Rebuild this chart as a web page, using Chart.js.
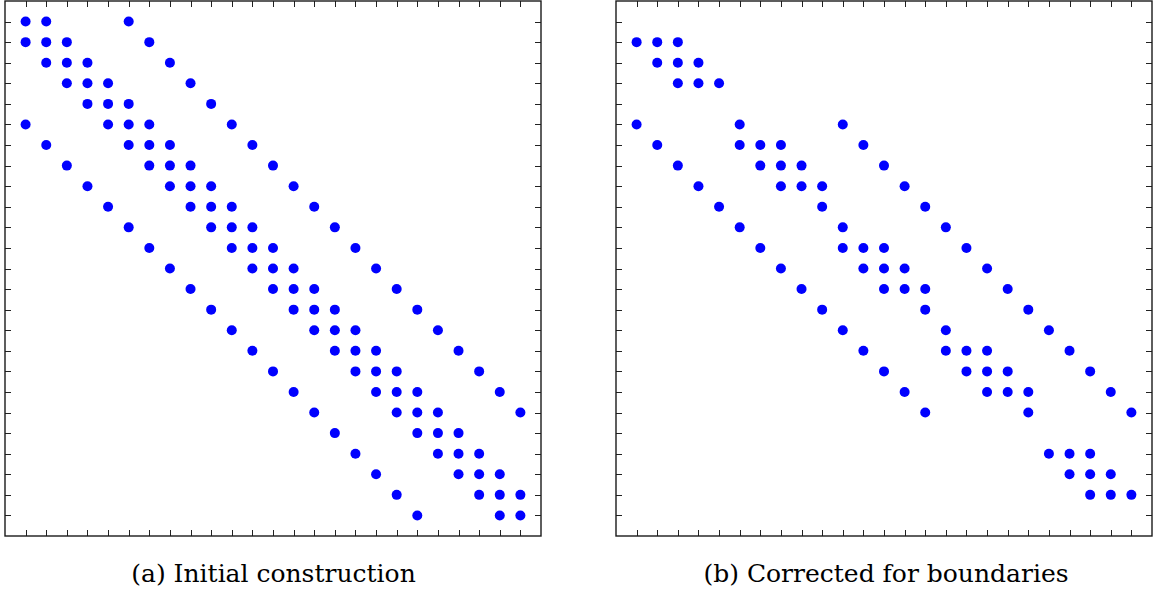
<!DOCTYPE html>
<html>
<head>
<meta charset="utf-8">
<script src="https://cdn.jsdelivr.net/npm/chart.js@4/dist/chart.umd.min.js"></script>
<style>
  html, body { margin: 0; padding: 0; background: #ffffff; }
  body { width: 1153px; height: 594px; position: relative; overflow: hidden; }
  .wrap { position: absolute; top: 0; width: 553px; height: 546px; }
  .cap { position: absolute; top: 559px; text-align: center;
         font-family: "DejaVu Serif", "Liberation Serif", serif; font-size: 25px;
         line-height: 30px; color: #000; white-space: nowrap; }
</style>
</head>
<body>
<div class="wrap" style="left:0px"><canvas id="left" width="553" height="546"></canvas></div>
<div class="wrap" style="left:600px"><canvas id="right" width="553" height="546"></canvas></div>
<div class="cap" id="capA" style="left:0px; width:547px;">(a) Initial construction</div>
<div class="cap" id="capB" style="left:600px; width:572px;">(b) Corrected for boundaries</div>
<script>
// Sparsity pattern: for each row (1..25), the list of non-zero columns
const leftRows = [
  [1, 2, 6],
  [1, 2, 3, 7],
  [2, 3, 4, 8],
  [3, 4, 5, 9],
  [4, 5, 6, 10],
  [1, 5, 6, 7, 11],
  [2, 6, 7, 8, 12],
  [3, 7, 8, 9, 13],
  [4, 8, 9, 10, 14],
  [5, 9, 10, 11, 15],
  [6, 10, 11, 12, 16],
  [7, 11, 12, 13, 17],
  [8, 12, 13, 14, 18],
  [9, 13, 14, 15, 19],
  [10, 14, 15, 16, 20],
  [11, 15, 16, 17, 21],
  [12, 16, 17, 18, 22],
  [13, 17, 18, 19, 23],
  [14, 18, 19, 20, 24],
  [15, 19, 20, 21, 25],
  [16, 20, 21, 22],
  [17, 21, 22, 23],
  [18, 22, 23, 24],
  [19, 23, 24, 25],
  [20, 24, 25]
];
const rightRows = [
  [],
  [1, 2, 3],
  [2, 3, 4],
  [3, 4, 5],
  [],
  [1, 6, 11],
  [2, 6, 7, 8, 12],
  [3, 7, 8, 9, 13],
  [4, 8, 9, 10, 14],
  [5, 10, 15],
  [6, 11, 16],
  [7, 11, 12, 13, 17],
  [8, 12, 13, 14, 18],
  [9, 13, 14, 15, 19],
  [10, 15, 20],
  [11, 16, 21],
  [12, 16, 17, 18, 22],
  [13, 17, 18, 19, 23],
  [14, 18, 19, 20, 24],
  [15, 20, 25],
  [],
  [21, 22, 23],
  [22, 23, 24],
  [23, 24, 25],
  []
];
const tickValues = [1,2,3,4,5,6,7,8,9,10,11,12,13,14,15,16,17,18,19,20,21,22,23,24,25];
const axisMin = 0;
const axisMax = 26;

function toPoints(rows) {
  const pts = [];
  rows.forEach((cols, i) => {
    cols.forEach(c => pts.push({ x: c, y: i + 1 }));
  });
  return pts;
}

const framePlugin = {
  id: 'frameTicks',
  afterDraw(chart) {
    const ctx = chart.ctx;
    const a = chart.chartArea;
    const xs = chart.scales.x, ys = chart.scales.y;
    const tl = 6;
    ctx.save();
    ctx.strokeStyle = '#222';
    ctx.lineWidth = 1;
    ctx.beginPath();
    tickValues.forEach(v => {
      const px = Math.round(xs.getPixelForValue(v)) + 0.5;
      ctx.moveTo(px, a.top); ctx.lineTo(px, a.top + tl);
      ctx.moveTo(px, a.bottom); ctx.lineTo(px, a.bottom - tl);
      const py = Math.round(ys.getPixelForValue(v)) + 0.5;
      ctx.moveTo(a.left, py); ctx.lineTo(a.left + tl, py);
      ctx.moveTo(a.right, py); ctx.lineTo(a.right - tl, py);
    });
    ctx.stroke();
    ctx.lineWidth = 1.4;
    ctx.strokeStyle = '#1a1a1a';
    ctx.strokeRect(a.left, a.top, a.right - a.left, a.bottom - a.top);
    ctx.restore();
  }
};

function makeChart(id, rows, pad) {
  return new Chart(document.getElementById(id), {
    type: 'scatter',
    data: {
      datasets: [{
        data: toPoints(rows),
        backgroundColor: '#0000ff',
        borderWidth: 0,
        pointRadius: 5,
        pointHoverRadius: 5
      }]
    },
    options: {
      responsive: false,
      animation: false,
      devicePixelRatio: 1,
      layout: { padding: pad, autoPadding: false },
      plugins: { legend: { display: false }, tooltip: { enabled: false } },
      events: [],
      scales: {
        x: { type: 'linear', min: axisMin, max: axisMax, display: false },
        y: { type: 'linear', min: axisMin, max: axisMax, reverse: true, display: false }
      }
    },
    plugins: [framePlugin]
  });
}

makeChart('left', leftRows, { left: 5, top: 1, right: 12, bottom: 10 });
makeChart('right', rightRows, { left: 16, top: 1, right: 1, bottom: 10 });
</script>
</body>
</html>
